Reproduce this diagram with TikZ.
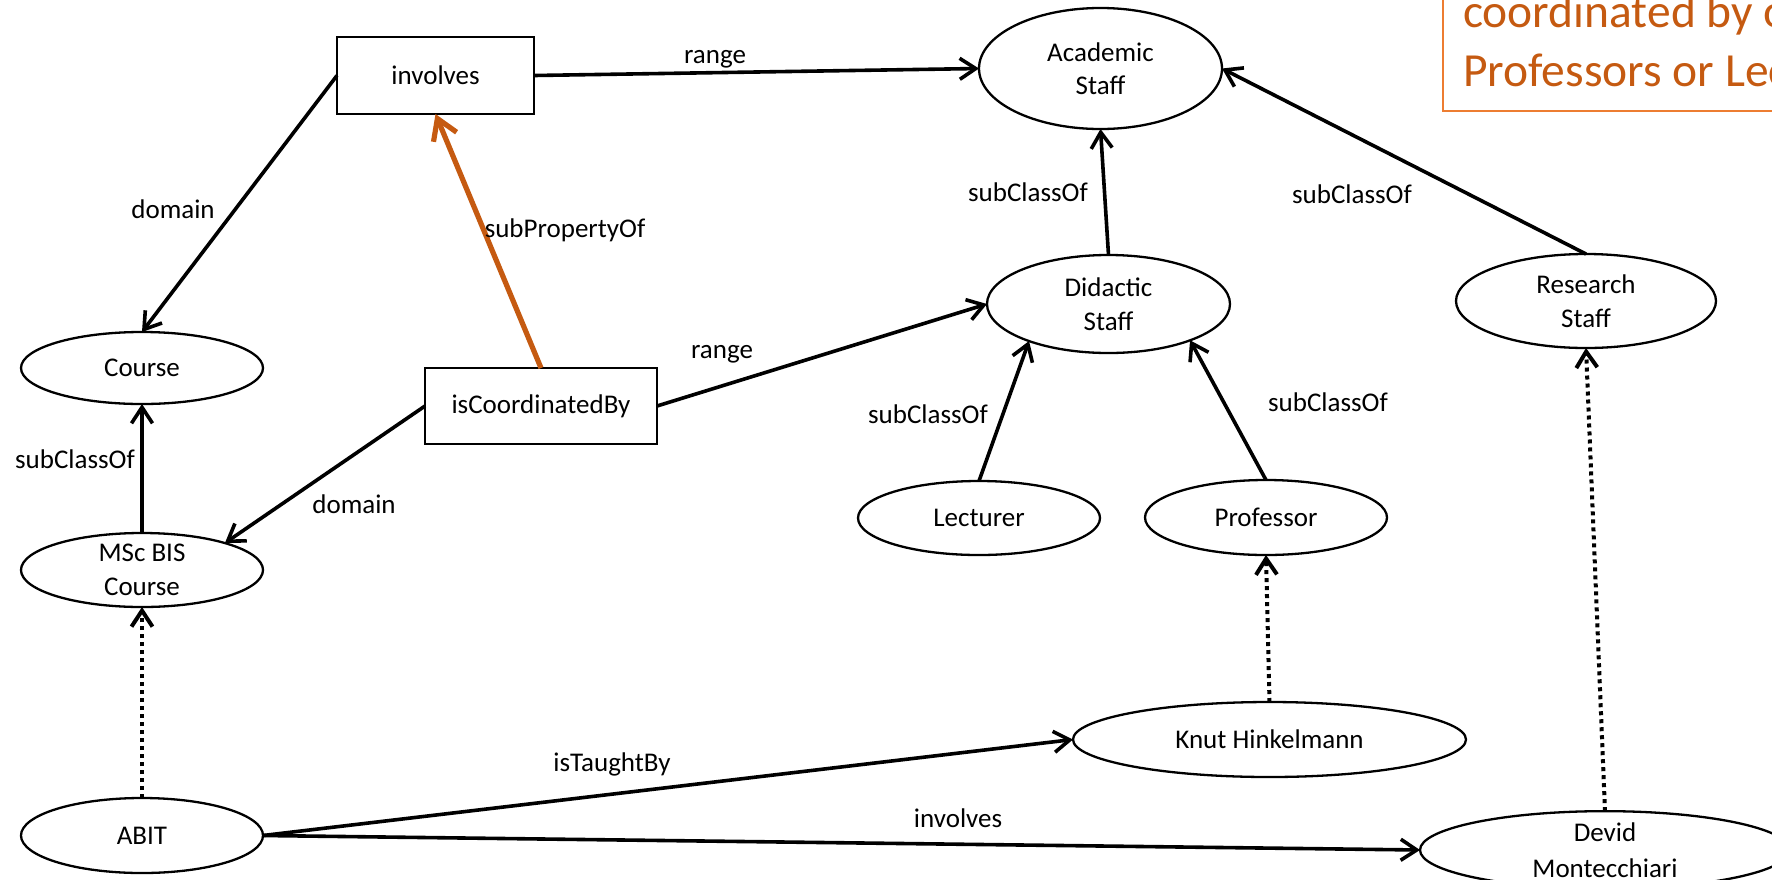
\documentclass[tikz,border=0pt]{standalone}
\usepackage{fontspec}
\setmainfont{Carlito}
\usetikzlibrary{arrows.meta,shapes.geometric}
\definecolor{accent}{HTML}{C55A11}
\definecolor{accentline}{HTML}{ED7D31}
\begin{document}
\begin{tikzpicture}[x=1pt,y=-1pt,
  every node/.style={font=\fontsize{27}{33.5}\selectfont},
  cls/.style args={#1/#2}{ellipse,draw,line width=2.3pt,minimum width=#1,minimum height=#2,
    inner sep=0pt,outer sep=0pt,align=center},
  prop/.style args={#1/#2}{rectangle,draw,line width=2.7pt,minimum width=#1,minimum height=#2,
    inner sep=0pt,outer sep=0pt},
  lbl/.style={anchor=base,inner sep=0pt},
  rel/.style={line width=3.6pt,-{Straight Barb[length=16pt,width=21pt]}},
  inst/.style={line width=4pt,dash pattern=on 4pt off 4pt,-{Straight Barb[length=16pt,width=21pt]}},
  sub/.style={draw=accent,line width=5.2pt,-{Straight Barb[length=20pt,width=25pt]}},
]
\useasboundingbox (0,0) rectangle (1772,879);
\clip (0,0) rectangle (1772,879);

% note box
\node[draw=accentline,line width=2.3pt,anchor=south west,align=left,inner xsep=20pt,inner ysep=24pt,
  text=accent,font=\fontsize{47.5}{59}\selectfont] (note) at (1442,112)
  {coordinated by o\\Professors or Lec};

% properties
\node[prop=197pt/77pt] (inv) at (435.5,75.5) {involves};
\node[prop=232pt/76pt] (isc) at (541,406) {isCoordinatedBy};

% classes and individuals
\node[cls=243pt/121pt] (acad) at (1100.5,68.5) {Academic\\Staff};
\node[cls=243pt/98pt] (did) at (1108.5,304) {Didactic\\Staff};
\node[cls=260pt/94pt] (res) at (1586,301) {Research\\Staff};
\node[cls=242pt/72pt] (course) at (142,368) {Course};
\node[cls=242pt/74pt] (msc) at (142,570) {MSc BIS\\Course};
\node[cls=242pt/75pt] (abit) at (142,835.5) {ABIT};
\node[cls=242pt/74pt] (lect) at (979,518) {Lecturer};
\node[cls=242pt/75pt] (prof) at (1266,517.5) {Professor};
\node[cls=393pt/75pt] (knut) at (1269.5,739.5) {Knut Hinkelmann};
\node[cls=370pt/76pt,font=\fontsize{27}{36}\selectfont] (devid) at (1605,850) {Devid\\Montecchiari};

% connectors
\draw[rel] (inv.west) -- (course.north);
\draw[rel] (inv.east) -- (acad.west);
\draw[sub] (isc.north) -- (inv.south);
\draw[rel] (isc.east) -- (did.west);
\draw[rel] (isc.west) -- (msc.18);
\draw[rel] (msc.north) -- (course.south);
\draw[inst] (abit.north) -- (msc.south);
\draw[rel] (abit.east) -- (knut.west);
\draw[rel] (abit.east) -- (devid.west);
\draw[inst] (knut.north) -- (prof.south);
\draw[inst] (devid.north) -- (res.south);
\draw[rel] (lect.north) -- (did.205);
\draw[rel] (prof.north) -- (did.336);
\draw[rel] (did.north) -- (acad.south);
\draw[rel] (res.north) -- (acad.east);

% connector labels
\node[lbl] (lrange1) at (715,63) {range};
\node[lbl] (ldom1) at (173,218) {domain};
\node[lbl] (lsubp) at (565,237) {subPropertyOf};
\node[lbl] (lrange2) at (722,358) {range};
\node[lbl] (ldom2) at (354,513) {domain};
\node[lbl] (lsubc1) at (75,468) {subClassOf};
\node[lbl] (ltaught) at (612,771) {isTaughtBy};
\node[lbl] (linv2) at (958,827) {involves};
\node[lbl] (lsubc2) at (1028,201) {subClassOf};
\node[lbl] (lsubc3) at (928,423) {subClassOf};
\node[lbl] (lsubc4) at (1328,411) {subClassOf};
\node[lbl] (lsubc5) at (1352,203) {subClassOf};
\end{tikzpicture}
\end{document}
